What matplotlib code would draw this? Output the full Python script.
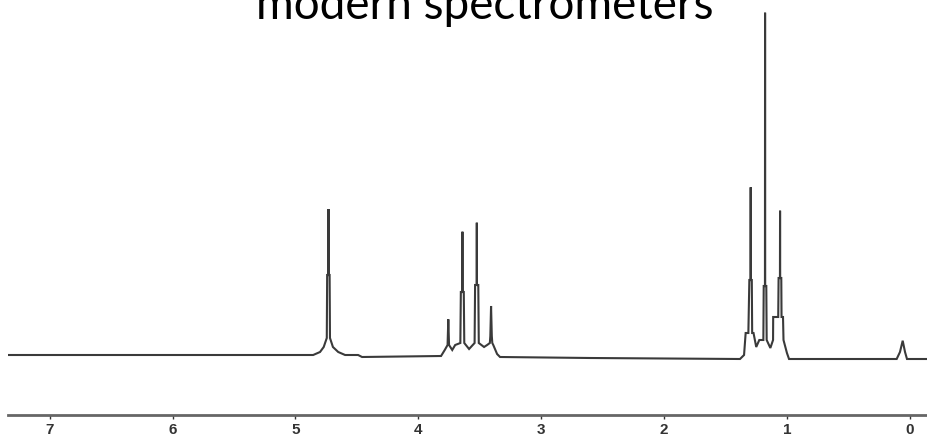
import numpy as np
import matplotlib.pyplot as plt

# 1H NMR trace (ethanol): chemical shift (ppm) and intensity
ppm = [7.34, 4.856, 4.800, 4.770, 4.745, 4.742, 4.732, 4.731, 4.730, 4.722, 4.719, 4.695, 4.652, 4.596,
       4.490, 4.458,
       3.815, 3.785, 3.762, 3.756, 3.750, 3.724, 3.700, 3.658, 3.654, 3.642, 3.641, 3.640, 3.630,
       3.626, 3.587, 3.542, 3.538, 3.525, 3.524, 3.523, 3.512, 3.508, 3.465, 3.440, 3.418, 3.414,
       3.408, 3.402, 3.398, 3.390, 3.359, 3.335,
       2.60, 1.382,
       1.349, 1.336, 1.314, 1.306, 1.296, 1.295, 1.294, 1.286, 1.283, 1.272, 1.250, 1.225, 1.192,
       1.189, 1.179, 1.178, 1.177, 1.168, 1.165, 1.135, 1.113, 1.112, 1.071, 1.068, 1.057, 1.056,
       1.055, 1.046, 1.044, 1.032, 1.028, 1.000, 0.983,
       0.107, 0.080, 0.058, 0.039, 0.023, -0.16]
intensity = [0, 0, 3, 8, 17, 80, 80, 146, 80, 80, 17, 8, 3, 0,
             0, -2,
             -1, 5, 10, 35.7, 10, 5, 10, 12, 63, 63, 123.3, 63, 63,
             12, 6, 12, 70, 70, 132.3, 70, 70, 12, 8, 10, 12, 19,
             49, 19, 12, 10, 1, -2,
             -3, -4,
             0, 22, 22, 75, 75, 167.7, 75, 75, 22, 22, 8, 15, 15,
             69, 69, 342.3, 69, 69, 15, 7, 15, 38, 38, 77, 77, 144.3,
             77, 77, 38, 38, 15, 2, -4,
             -4, 3, 14.3, 3, -4, -4]

tick_vals = [7, 6, 5, 4, 3, 2, 1, 0]
title = "modern spectrometers"

fig = plt.figure(figsize=(9.28, 4.37), dpi=100)
ax = fig.add_axes([8.3 / 928, 1 - 415 / 437, 1 - 8.3 / 928, 415 / 437])

ax.plot(ppm, intensity, color="#3a3a3a", lw=1.5, solid_joinstyle="miter")
ax.set_xlim(7.337, -0.148)
ax.set_ylim(-60, 355)

for s in ["top", "left", "right"]:
    ax.spines[s].set_visible(False)
ax.spines["bottom"].set_color("#666666")
ax.spines["bottom"].set_linewidth(2)
ax.set_yticks([])
ax.set_xticks(tick_vals)
ax.set_xticklabels([str(t) for t in tick_vals], fontsize=11, fontweight="bold",
                   color="#333333", family="Liberation Sans")
ax.tick_params(axis="x", length=3, width=1, color="#333333", pad=3)

fig.text(485 / 928, 1 - 19 / 437, title, ha="center", va="baseline",
         fontsize=33, family="Lato", color="black")

fig.savefig("out.png", dpi=100)
